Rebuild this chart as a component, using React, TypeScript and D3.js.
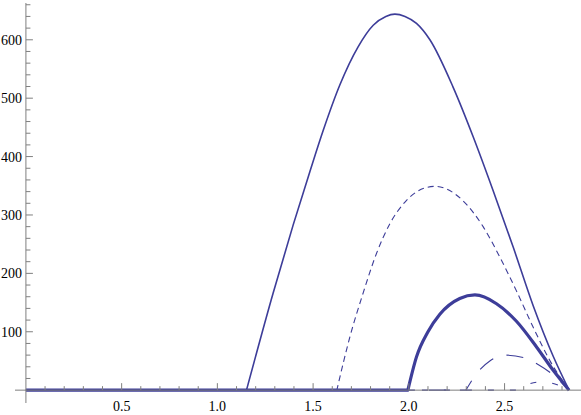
import React, { useEffect, useRef } from "react";
import * as d3 from "d3";

// curves: [x, y]; each starts on the axis at x = 0
const solidThin: [number, number][] = [
  [1.152, 0], [1.291, 166], [1.396, 283], [1.483, 374], [1.553, 445], [1.64, 523],
  [1.735, 588], [1.814, 625], [1.88, 640], [1.927, 644], [1.98, 640], [2.04, 628],
  [2.11, 600], [2.231, 519], [2.336, 434], [2.44, 342], [2.545, 245], [2.649, 145],
  [2.754, 58], [2.837, 0],
];
const dashedShort: [number, number][] = [
  [1.624, 0], [1.692, 91], [1.761, 166], [1.831, 234], [1.901, 285], [1.988, 325],
  [2.092, 347], [2.141, 349], [2.2, 344], [2.284, 324], [2.388, 280], [2.475, 228],
  [2.562, 170], [2.649, 108], [2.736, 51], [2.837, 0],
];
const solidThick: [number, number][] = [
  [1.995, 0], [2.04, 57], [2.1, 100], [2.162, 130], [2.266, 157], [2.345, 163],
  [2.458, 148], [2.562, 118], [2.667, 74], [2.754, 34], [2.837, 0],
];
const dashedLong: [number, number][] = [
  [2.298, 0], [2.353, 28], [2.423, 50], [2.501, 60], [2.597, 56], [2.675, 44],
  [2.754, 26], [2.837, 0],
];
const dashedSparse: [number, number][] = [
  [2.56, 0], [2.623, 10], [2.684, 14], [2.745, 12], [2.837, 0],
];

const xMajor = [0.5, 1.0, 1.5, 2.0, 2.5];
const yMajor = [100, 200, 300, 400, 500, 600];

const W = 581;
const H = 415;
const blue = "#3d3d99";
const axisGray = "#7f7f7f";

const series = [
  { pts: dashedSparse, width: 1.1, dash: "6,16" },
  { pts: dashedLong, width: 1.1, dash: "17,14" },
  { pts: dashedShort, width: 1.1, dash: "6,4" },
  { pts: solidThin, width: 1.6, dash: null },
  { pts: solidThick, width: 3.2, dash: null },
];

export default function App() {
  const ref = useRef<SVGSVGElement>(null);

  useEffect(() => {
    const svg = d3.select(ref.current);
    svg.selectAll("*").remove();

    const x = d3.scaleLinear().domain([-0.057, 2.894]).range([15, 580]);
    const y = d3.scaleLinear().domain([-22, 663]).range([403, 3]);

    const hump = d3
      .line<[number, number]>()
      .x((d) => x(d[0]))
      .y((d) => y(d[1]))
      .curve(d3.curveMonotoneX);

    const g = svg.append("g");
    series.forEach((s) => {
      // flat part along zero, then the hump, as one path so the dashes run on
      const flat = `M${x(0)},${y(0)}`;
      const d = flat + (hump(s.pts) || "").replace(/^M/, "L");
      g.append("path")
        .attr("d", d)
        .attr("fill", "none")
        .attr("stroke", blue)
        .attr("stroke-width", s.width)
        .attr("stroke-dasharray", s.dash)
        .attr("stroke-linejoin", "round");
    });

    // axes on top
    const ax = svg.append("g").attr("stroke", axisGray).attr("stroke-width", 1);
    ax.append("line")
      .attr("x1", 15).attr("x2", W)
      .attr("y1", y(0)).attr("y2", y(0));
    ax.append("line")
      .attr("x1", x(0)).attr("x2", x(0))
      .attr("y1", 3).attr("y2", 403);

    const xMinor = d3.range(1, 29).map((i) => i / 10);
    ax.selectAll(".xt")
      .data(xMinor)
      .join("line")
      .attr("x1", (d) => x(d)).attr("x2", (d) => x(d))
      .attr("y1", y(0))
      .attr("y2", (d) => y(0) - (Math.abs(d * 2 - Math.round(d * 2)) < 1e-6 ? 7 : 4));

    const yMinor = d3.range(1, 34).map((i) => i * 20);
    ax.selectAll(".yt")
      .data(yMinor)
      .join("line")
      .attr("y1", (d) => y(d)).attr("y2", (d) => y(d))
      .attr("x1", x(0))
      .attr("x2", (d) => x(0) + (d % 100 === 0 ? 7 : 4.5));

    const font = '"Liberation Serif", "Times New Roman", serif';
    svg.append("g")
      .selectAll("text")
      .data(xMajor)
      .join("text")
      .attr("x", (d) => x(d))
      .attr("y", y(0) + 21)
      .attr("text-anchor", "middle")
      .style("font-family", font)
      .style("font-size", "14px")
      .attr("fill", "#000")
      .text((d) => d.toFixed(1));

    svg.append("g")
      .selectAll("text")
      .data(yMajor)
      .join("text")
      .attr("x", 22)
      .attr("y", (d) => y(d) + 5)
      .attr("text-anchor", "end")
      .style("font-family", font)
      .style("font-size", "14px")
      .attr("fill", "#000")
      .text((d) => String(d));
  }, []);

  return (
    <svg
      ref={ref}
      width={W}
      height={H}
      style={{ position: "absolute", left: 0, top: 0, background: "#fff" }}
    />
  );
}
